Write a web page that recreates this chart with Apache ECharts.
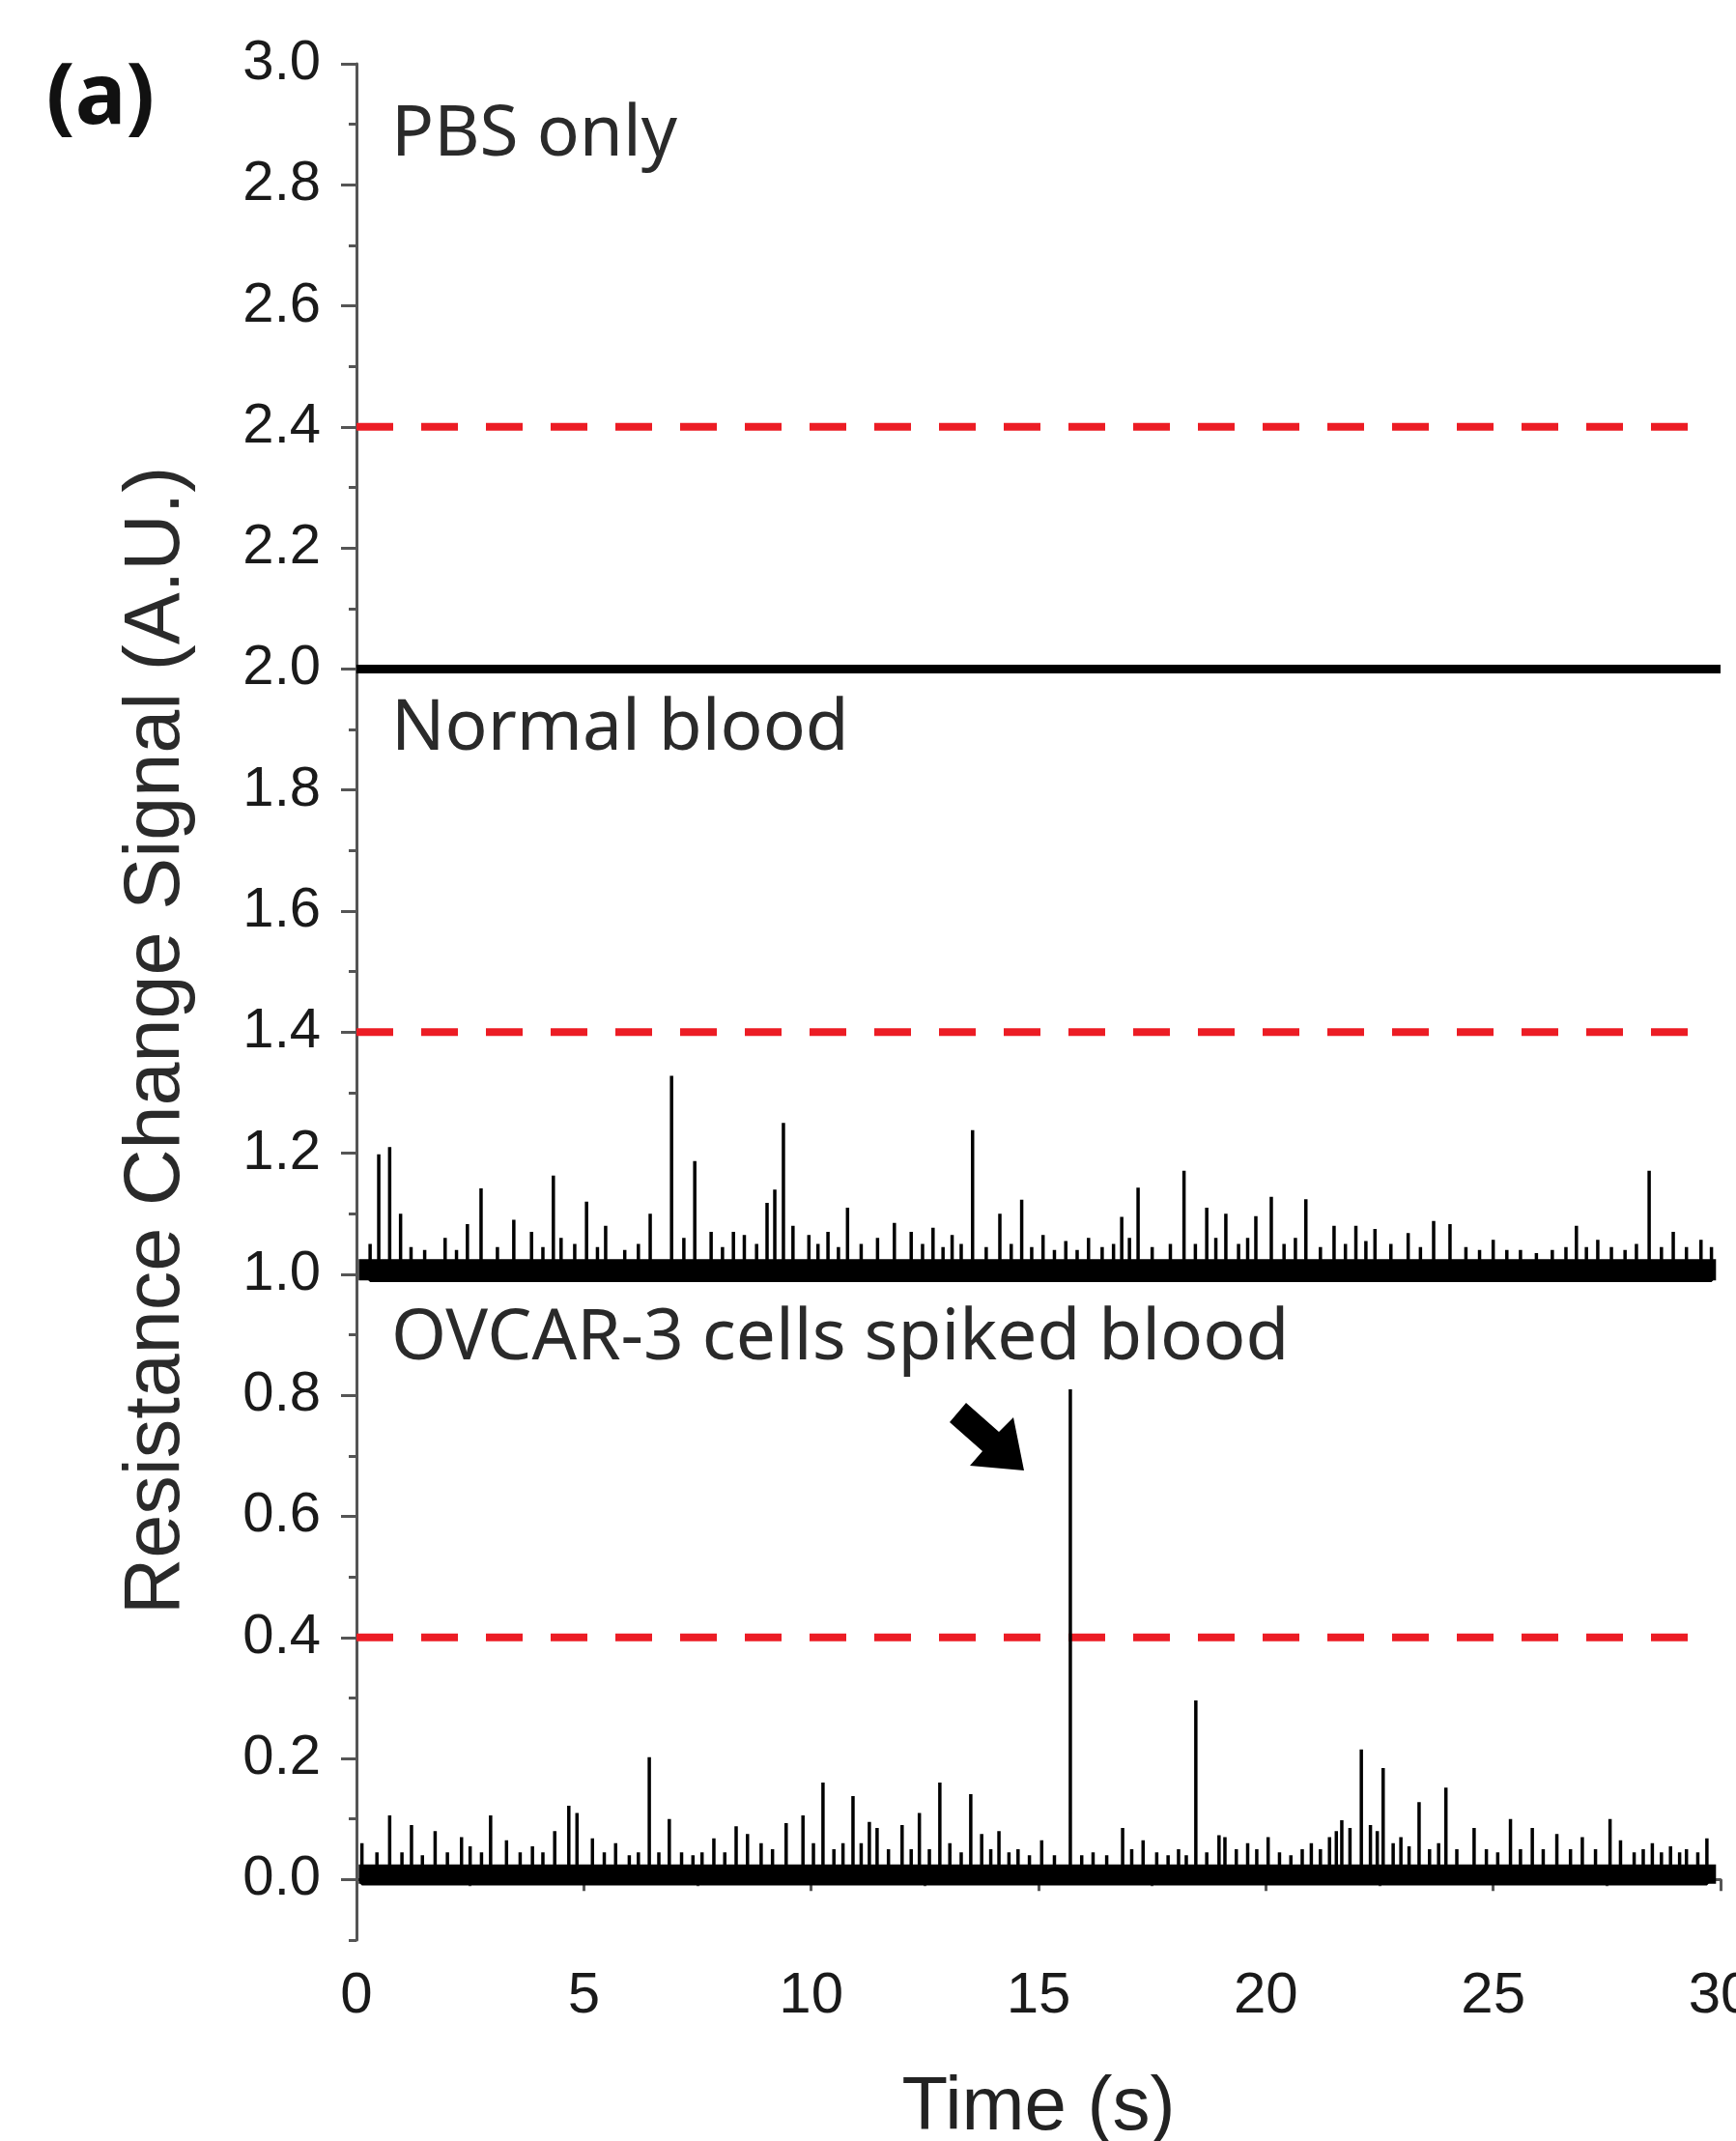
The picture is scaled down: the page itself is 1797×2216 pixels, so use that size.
<!DOCTYPE html>
<html>
<head>
<meta charset="utf-8">
<script src="https://cdn.jsdelivr.net/npm/echarts@6/dist/echarts.min.js"></script>
<style>
  html, body { margin: 0; padding: 0; background: #fff; }
  #chart { width: 1797px; height: 2216px; }
</style>
</head>
<body>
<div id="chart"></div>
<script>
// ---- data ----
// detection thresholds (red dashed lines), one per trace
const thresholds = [2.4, 1.4, 0.4];
const thresholdEnd = 29.4;

// PBS only: flat trace at 2.0
const pbsTime = [0, 30];
const pbsValue = [2.0, 2.0];

// Normal blood: noise band around 1.0 and spikes
const normalBand = [0.99, 1.025];
const normalTime = [0.3, 0.49, 0.73, 0.97, 1.2, 1.5, 1.95, 2.2, 2.44, 2.74, 3.1, 3.46, 3.85, 4.1, 4.33,
  4.5, 4.8, 5.06, 5.3, 5.48, 5.9, 6.2, 6.46, 6.93, 7.2, 7.44, 7.8, 8.05, 8.29, 8.53, 8.8, 9.03, 9.2,
  9.39, 9.6, 9.95, 10.15, 10.37, 10.6, 10.8, 11.1, 11.46, 11.83, 12.2, 12.45, 12.68, 12.9, 13.1,
  13.3, 13.55, 13.85, 14.15, 14.4, 14.63, 14.85, 15.1, 15.35, 15.6, 15.85, 16.1, 16.4, 16.65,
  16.83, 17.0, 17.19, 17.5, 17.9, 18.2, 18.45, 18.7, 18.9, 19.12, 19.4, 19.6, 19.78, 20.12, 20.4,
  20.65, 20.88, 21.2, 21.5, 21.75, 21.98, 22.2, 22.4, 22.75, 23.13, 23.4, 23.69, 24.05, 24.4,
  24.7, 25.0, 25.3, 25.6, 25.95, 26.3, 26.6, 26.83, 27.05, 27.3, 27.6, 27.9, 28.15, 28.43,
  28.7, 28.96, 29.25, 29.57, 29.8];
const normalValue = [1.05, 1.198, 1.21, 1.10, 1.045, 1.04, 1.06, 1.04, 1.083, 1.142, 1.045, 1.09,
  1.07, 1.045, 1.163, 1.06, 1.05, 1.12, 1.045, 1.08, 1.04, 1.05, 1.10, 1.328, 1.06, 1.187, 1.07,
  1.045, 1.07, 1.065, 1.05, 1.118, 1.14, 1.25, 1.08, 1.065, 1.05, 1.07, 1.045, 1.11, 1.05, 1.06,
  1.085, 1.07, 1.05, 1.077, 1.045, 1.065, 1.05, 1.238, 1.045, 1.10, 1.05, 1.123, 1.045, 1.065,
  1.04, 1.055, 1.04, 1.06, 1.045, 1.05, 1.095, 1.06, 1.143, 1.045, 1.05, 1.171, 1.05, 1.11, 1.06,
  1.10, 1.05, 1.06, 1.096, 1.128, 1.05, 1.06, 1.124, 1.045, 1.08, 1.05, 1.08, 1.055, 1.075, 1.05,
  1.068, 1.045, 1.088, 1.083, 1.045, 1.04, 1.057, 1.04, 1.04, 1.035, 1.04, 1.045, 1.08, 1.045,
  1.057, 1.045, 1.04, 1.05, 1.171, 1.045, 1.07, 1.045, 1.057, 1.045];

// OVCAR-3 spiked blood: noise band around 0.0 and spikes
const ovcarBand = [-0.007, 0.025];
const ovcarTime = [0.12, 0.45, 0.73, 1.0, 1.21, 1.45, 1.73, 2.0, 2.31, 2.5, 2.75, 2.95, 3.3, 3.6,
  3.87, 4.1, 4.36, 4.67, 4.85, 5.19, 5.45, 5.7, 6.0, 6.2, 6.44, 6.65, 6.88, 7.15, 7.4, 7.6, 7.86,
  8.1, 8.35, 8.6, 8.9, 9.15, 9.45, 9.82, 10.05, 10.26, 10.5, 10.7, 10.92, 11.1, 11.28, 11.45,
  11.7, 12.0, 12.2, 12.38, 12.6, 12.83, 13.05, 13.3, 13.51, 13.75, 13.95, 14.13, 14.35, 14.55,
  14.8, 15.07, 15.35, 15.7, 15.95, 16.2, 16.5, 16.85, 17.05, 17.3, 17.6, 17.85, 18.08, 18.25,
  18.46, 18.7, 18.97, 19.1, 19.35, 19.6, 19.8, 20.05, 20.3, 20.55, 20.8, 21.0, 21.2, 21.4, 21.55,
  21.67, 21.85, 22.1, 22.3, 22.45, 22.58, 22.8, 22.97, 23.15, 23.37, 23.6, 23.8, 23.96, 24.2,
  24.58, 24.85, 25.1, 25.38, 25.6, 25.86, 26.1, 26.4, 26.7, 26.96, 27.25, 27.57, 27.8, 28.1,
  28.3, 28.5, 28.7, 28.9, 29.1, 29.25, 29.5, 29.7];
const ovcarValue = [0.06, 0.045, 0.106, 0.045, 0.09, 0.04, 0.08, 0.045, 0.07, 0.055, 0.045, 0.106,
  0.065, 0.045, 0.055, 0.045, 0.08, 0.122, 0.11, 0.068, 0.045, 0.06, 0.04, 0.045, 0.202, 0.045,
  0.10, 0.045, 0.04, 0.045, 0.068, 0.045, 0.088, 0.075, 0.06, 0.05, 0.093, 0.106, 0.06, 0.16,
  0.05, 0.06, 0.138, 0.06, 0.095, 0.085, 0.05, 0.09, 0.05, 0.11, 0.05, 0.16, 0.06, 0.045, 0.141,
  0.075, 0.05, 0.08, 0.045, 0.05, 0.04, 0.065, 0.04, 0.81, 0.04, 0.045, 0.04, 0.085, 0.05, 0.065,
  0.045, 0.04, 0.05, 0.04, 0.296, 0.045, 0.073, 0.07, 0.05, 0.06, 0.05, 0.07, 0.045, 0.04, 0.05,
  0.06, 0.05, 0.07, 0.08, 0.098, 0.085, 0.215, 0.09, 0.08, 0.184, 0.06, 0.07, 0.055, 0.128, 0.05,
  0.06, 0.152, 0.05, 0.085, 0.05, 0.045, 0.10, 0.05, 0.085, 0.05, 0.075, 0.05, 0.07, 0.05, 0.10,
  0.065, 0.045, 0.05, 0.06, 0.045, 0.055, 0.045, 0.05, 0.045, 0.068];
const bandSpan = [0.05, 29.9];

const majorTicks = [];
for (let i = 0; i <= 15; i++) majorTicks.push(+(i * 0.2).toFixed(1));

// ---- helpers ----
function spikePoints(times, values, base) {
  const pts = [];
  for (let i = 0; i < times.length; i++) {
    pts.push([times[i], base], [times[i], values[i]], [times[i], base]);
  }
  return pts;
}

function bandItem(params, api) {
  const p0 = api.coord([api.value(0), api.value(3)]);
  const p1 = api.coord([api.value(1), api.value(2)]);
  return {
    type: "rect",
    shape: { x: p0[0], y: p0[1], width: p1[0] - p0[0], height: p1[1] - p0[1] },
    style: { fill: "#000" }
  };
}

const tickFont = "Liberation Sans, Arial, sans-serif";
const textFont = "Noto Sans, Open Sans, sans-serif";
const axisColor = "#555";

const series = [];
thresholds.forEach((v) => {
  series.push({
    type: "line",
    data: [[0, v], [thresholdEnd, v]],
    symbol: "none",
    lineStyle: { color: "#ec1c24", width: 8, type: [38, 29] },
    z: 3
  });
});
series.push({
  type: "line",
  data: pbsTime.map((t, i) => [t, pbsValue[i]]),
  symbol: "none",
  lineStyle: { color: "#000", width: 9 }
});
series.push({
  type: "custom",
  renderItem: bandItem,
  data: [[bandSpan[0], bandSpan[1], normalBand[0], normalBand[1]],
         [bandSpan[0], bandSpan[1], ovcarBand[0], ovcarBand[1]]]
});
series.push({
  type: "line",
  data: spikePoints(normalTime, normalValue, normalBand[0]),
  symbol: "none",
  lineStyle: { color: "#000", width: 3.5 }
});
series.push({
  type: "line",
  data: spikePoints(ovcarTime, ovcarValue, ovcarBand[0]),
  symbol: "none",
  lineStyle: { color: "#000", width: 3.5 }
});

// arrow pointing at the big spike
const arrow = [[983, 1472], [1017, 1502], [1004, 1517], [1060, 1522], [1049, 1467], [1034, 1482], [1000, 1452]];

const chart = echarts.init(document.getElementById("chart"));
chart.setOption({
  animation: false,
  backgroundColor: "#fff",
  grid: { left: 369, right: 16, top: 66, bottom: 208, outerBoundsMode: "none", containLabel: false },
  xAxis: {
    type: "value",
    min: 0,
    max: 30,
    interval: 5,
    name: "Time (s)",
    nameLocation: "middle",
    nameGap: 135,
    nameTextStyle: { fontFamily: tickFont, fontSize: 78, color: "#222" },
    axisLine: { lineStyle: { color: axisColor, width: 3 } },
    axisTick: { length: 12, lineStyle: { color: axisColor, width: 3 } },
    minorTick: { show: true, splitNumber: 2, length: 7, lineStyle: { color: axisColor, width: 3 } },
    axisLabel: { fontFamily: tickFont, fontSize: 60, color: "#1a1a1a", margin: 28 },
    splitLine: { show: false }
  },
  yAxis: [
    {
      type: "value",
      min: -0.1,
      max: 3.0,
      interval: 0.1,
      axisLine: { show: true, lineStyle: { color: axisColor, width: 3 } },
      axisTick: { length: 8, lineStyle: { color: axisColor, width: 3 } },
      axisLabel: { show: false },
      splitLine: { show: false }
    },
    {
      type: "value",
      min: -0.1,
      max: 3.0,
      interval: 0.1,
      position: "left",
      axisLine: { show: false },
      axisTick: { show: true, length: 16, customValues: majorTicks, lineStyle: { color: axisColor, width: 3 } },
      axisLabel: {
        customValues: majorTicks,
        formatter: (v) => v.toFixed(1),
        fontFamily: tickFont, fontSize: 58, color: "#1a1a1a", margin: 37
      },
      splitLine: { show: false }
    }
  ],
  series: series,
  graphic: [
    { type: "text", x: 104, y: 103, style: { text: "(a)", font: "bold 88px " + textFont, fill: "#111", textAlign: "center", textVerticalAlign: "middle" } },
    { type: "text", x: 405, y: 140, style: { text: "PBS only", font: "73px " + textFont, fill: "#2a2a2a", textAlign: "left", textVerticalAlign: "middle" } },
    { type: "text", x: 405, y: 755, style: { text: "Normal blood", font: "73px " + textFont, fill: "#2a2a2a", textAlign: "left", textVerticalAlign: "middle" } },
    { type: "text", x: 405, y: 1386, style: { text: "OVCAR-3 cells spiked blood", font: "73px " + textFont, fill: "#2a2a2a", textAlign: "left", textVerticalAlign: "middle" } },
    { type: "text", x: 163, y: 1077, rotation: Math.PI / 2, style: { text: "Resistance Change Signal (A.U.)", font: "81px " + tickFont, fill: "#2a2a2a", textAlign: "center", textVerticalAlign: "middle" } },
    { type: "polygon", shape: { points: arrow }, style: { fill: "#000" } }
  ]
});
</script>
</body>
</html>
